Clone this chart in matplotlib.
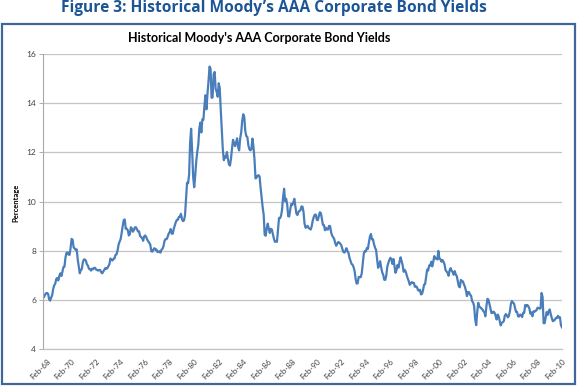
import numpy as np
import pandas as pd
import matplotlib.pyplot as plt
import matplotlib.transforms as mtransforms
from matplotlib.patches import Rectangle

# Moody's AAA corporate bond yields, monthly, Feb-1968 .. Jun-2010
yields_1968_1979 = [
    6.10, 6.11, 6.21, 6.27, 6.28, 6.24, 6.02, 5.97, 6.09, 6.19, 6.45,
    6.59, 6.66, 6.85, 6.89, 6.79, 6.98, 7.08, 6.97, 7.14, 7.33, 7.35, 7.72,
    7.91, 7.93, 7.84, 7.83, 8.11, 8.48, 8.44, 8.13, 8.09, 8.03, 8.05, 7.64,
    7.36, 7.08, 7.21, 7.25, 7.53, 7.64, 7.64, 7.59, 7.44, 7.39, 7.26, 7.25,
    7.19, 7.27, 7.24, 7.30, 7.30, 7.23, 7.21, 7.19, 7.22, 7.21, 7.12, 7.08,
    7.15, 7.22, 7.29, 7.26, 7.29, 7.37, 7.45, 7.68, 7.63, 7.60, 7.67, 7.68,
    7.83, 7.85, 8.01, 8.25, 8.37, 8.47, 8.72, 9.00, 9.24, 9.27, 8.89, 8.89,
    8.83, 8.62, 8.67, 8.95, 8.90, 8.77, 8.84, 8.95, 8.95, 8.86, 8.78, 8.79,
    8.60, 8.55, 8.52, 8.40, 8.58, 8.62, 8.56, 8.45, 8.38, 8.32, 8.25, 7.98,
    7.96, 8.04, 8.10, 8.04, 8.05, 7.95, 7.94, 7.98, 7.92, 8.04, 8.08, 8.19,
    8.41, 8.47, 8.47, 8.56, 8.69, 8.76, 8.88, 8.69, 8.69, 8.89, 9.03, 9.16,
    9.25, 9.26, 9.37, 9.38, 9.50, 9.29, 9.20, 9.23, 9.44, 10.13, 10.76, 10.74,
]
yields_1980s = [
    11.09, 12.38, 12.96, 12.04, 10.99, 10.58, 11.07, 11.64, 12.02, 12.31, 12.97, 13.21,
    12.81, 13.35, 13.33, 13.88, 14.32, 13.75, 14.38, 14.89, 15.49, 15.40, 14.22, 14.23,
    15.18, 15.27, 14.58, 14.46, 14.26, 14.81, 14.61, 13.71, 12.94, 12.12, 11.68, 11.83,
    11.79, 12.01, 11.73, 11.51, 11.46, 11.74, 12.15, 12.51, 12.37, 12.25, 12.41, 12.57,
    12.20, 12.08, 12.57, 12.81, 13.28, 13.55, 13.44, 12.87, 12.66, 12.63, 12.29, 12.13,
    12.08, 12.13, 12.56, 12.23, 11.72, 10.94, 10.97, 11.05, 11.07, 11.02, 10.55, 10.16,
    9.77, 9.46, 8.64, 8.61, 8.92, 9.10, 8.89, 8.72, 8.89, 8.86, 8.68, 8.49,
    8.36, 8.38, 8.36, 8.85, 9.33, 9.32, 9.42, 9.67, 10.18, 10.52, 10.01, 10.11,
    9.88, 9.40, 9.39, 9.67, 9.90, 9.86, 9.96, 10.11, 9.82, 9.51, 9.45, 9.57,
    9.62, 9.64, 9.80, 9.79, 9.57, 9.10, 8.93, 8.96, 9.01, 8.92, 8.89, 8.86,
]
yields_1990s = [
    8.99, 9.22, 9.37, 9.46, 9.47, 9.26, 9.24, 9.41, 9.56, 9.53, 9.30, 9.05,
    9.04, 8.83, 8.93, 8.86, 8.86, 9.01, 9.00, 8.75, 8.61, 8.55, 8.48, 8.31,
    8.20, 8.29, 8.35, 8.33, 8.28, 8.22, 8.07, 7.95, 7.92, 7.99, 8.10, 7.98,
    7.91, 7.71, 7.58, 7.46, 7.43, 7.33, 7.17, 6.85, 6.66, 6.67, 6.93, 6.93,
    6.92, 7.08, 7.48, 7.88, 7.99, 7.97, 8.11, 8.07, 8.34, 8.57, 8.68, 8.46,
    8.46, 8.26, 8.12, 8.03, 7.65, 7.30, 7.41, 7.57, 7.32, 7.12, 7.02, 6.82,
    6.81, 6.99, 7.35, 7.50, 7.62, 7.71, 7.65, 7.46, 7.66, 7.39, 7.10, 7.20,
    7.42, 7.31, 7.55, 7.73, 7.58, 7.41, 7.14, 7.22, 7.15, 7.00, 6.87, 6.76,
    6.61, 6.67, 6.72, 6.69, 6.69, 6.53, 6.55, 6.52, 6.40, 6.37, 6.41, 6.22,
    6.24, 6.40, 6.62, 6.64, 6.93, 7.23, 7.19, 7.40, 7.39, 7.55, 7.36, 7.55,
]
yields_2000s = [
    7.78, 7.68, 7.68, 7.64, 7.99, 7.67, 7.65, 7.55, 7.62, 7.55, 7.45, 7.21,
    7.15, 7.10, 6.98, 7.20, 7.29, 7.18, 7.13, 7.02, 7.17, 7.03, 6.97, 6.77,
    6.55, 6.51, 6.81, 6.76, 6.75, 6.63, 6.53, 6.37, 6.15, 6.32, 6.31, 6.21,
    6.17, 5.95, 5.89, 5.74, 5.22, 4.97, 5.49, 5.88, 5.72, 5.70, 5.65, 5.62,
    5.54, 5.50, 5.33, 5.73, 6.04, 6.01, 5.82, 5.65, 5.46, 5.47, 5.52, 5.47,
    5.36, 5.20, 5.40, 5.33, 5.15, 4.96, 5.06, 5.09, 5.13, 5.35, 5.42, 5.37,
    5.29, 5.35, 5.53, 5.84, 5.95, 5.89, 5.85, 5.68, 5.51, 5.51, 5.33, 5.32,
    5.40, 5.39, 5.30, 5.47, 5.47, 5.79, 5.73, 5.79, 5.74, 5.66, 5.44, 5.49,
    5.33, 5.53, 5.51, 5.55, 5.57, 5.68, 5.67, 5.64, 5.65, 6.28, 6.12, 5.05,
    5.05, 5.27, 5.50, 5.39, 5.54, 5.61, 5.41, 5.26, 5.13, 5.15, 5.19, 5.26,
]
yields_2010 = [5.26, 5.35, 5.27, 5.29, 4.96, 4.88]

yields = np.array(yields_1968_1979 + yields_1980s + yields_1990s + yields_2000s + yields_2010)
months = pd.date_range("1968-02-01", periods=len(yields), freq="MS")
xpos = np.arange(len(yields))

tick_pos = xpos[::24]
tick_labels = [d.strftime("%b-%y") for d in months[::24]]

W, H = 582, 387
fig = plt.figure(figsize=(W / 100, H / 100), dpi=100)
fig.patch.set_facecolor("white")

# outer frame
fig.patches.append(Rectangle((2 / W, 1 - 383.5 / H), 573 / W, 359.5 / H, transform=fig.transFigure,
                             fill=False, edgecolor="#41679a", linewidth=1.6))

fig.text(0.47, 1 - 8 / H, "Figure 3: Historical Moody\u2019s AAA Corporate Bond Yields",
         ha="center", va="center", fontsize=11.2, fontweight="bold", color="#1c5596",
         family=["Open Sans", "DejaVu Sans"])

ax = fig.add_axes([43 / W, 1 - 349 / H, (562 - 43) / W, (349 - 54) / H])
ax.plot(xpos, yields, color="#4a7ebb", linewidth=1.6)

ax.set_xlim(0, len(yields) - 1)
ax.set_ylim(4, 16)
ax.set_yticks(np.arange(4, 17, 2))
ax.set_xticks(tick_pos, tick_labels)
ax.tick_params(axis="y", length=3, width=0.6, color="#a0a0a0", pad=2,
               labelsize=6, labelcolor="#404040")
ax.tick_params(axis="x", length=0, pad=6, labelsize=5.8, labelcolor="#404040",
               labelrotation=45)
shift = mtransforms.ScaledTranslation(4 / 100, 0, fig.dpi_scale_trans)
for lbl in ax.get_xticklabels():
    lbl.set_ha("right")
    lbl.set_rotation_mode("anchor")
    lbl.set_family("Lato")
    lbl.set_transform(lbl.get_transform() + shift)
plt.setp(ax.get_yticklabels(), family="Lato")
ax.grid(axis="y", color="#c4c4c4", linewidth=0.9)
ax.set_axisbelow(True)
for side in ["top", "right"]:
    ax.spines[side].set_visible(False)
ax.spines["left"].set_color("#a8a8a8")
ax.spines["bottom"].set_color("#c4c4c4")
ax.spines["left"].set_linewidth(0.8)
ax.spines["bottom"].set_linewidth(0.9)

fig.text(259 / W, 1 - 38 / H, "Historical Moody's AAA Corporate Bond Yields",
         ha="center", va="center", fontsize=9, fontweight="bold", color="black", family="Lato")
fig.text(16 / W, 1 - 203 / H, "Percentage", rotation=90, ha="center", va="center",
         fontsize=5.5, fontweight="bold", color="black", family="Lato")

fig.savefig("out.png", dpi=100)
